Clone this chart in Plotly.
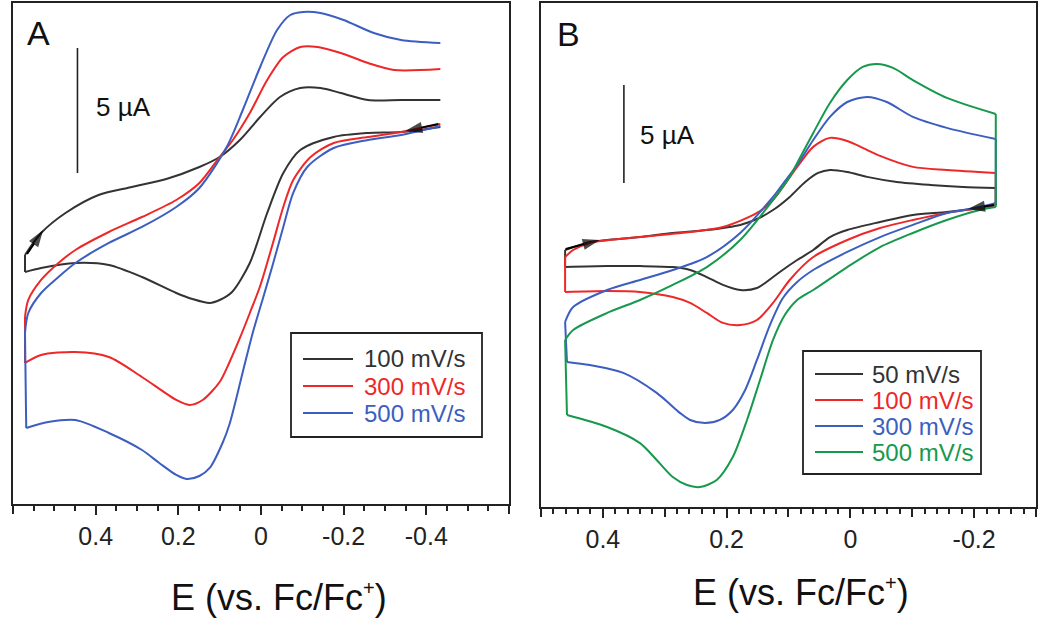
import plotly.graph_objects as go

# ---------------- Panel A data (E in V vs Fc/Fc+, I in µA, arbitrary offset) ----------------
a100_fwd_E = [0.571, 0.532, 0.473, 0.393, 0.312, 0.229, 0.149, 0.100, 0.051, 0.002, -0.046, -0.095, -0.144, -0.193, -0.259, -0.339, -0.434]
a100_fwd_I = [-0.04, 0.84, 1.64, 2.36, 2.68, 3.00, 3.48, 3.88, 4.56, 5.48, 6.28, 6.64, 6.64, 6.44, 6.16, 6.16, 6.16]
a100_rev_E = [-0.434, -0.339, -0.259, -0.176, -0.095, -0.054, -0.015, 0.027, 0.070, 0.100, 0.124, 0.166, 0.205, 0.288, 0.368, 0.449, 0.532, 0.571]
a100_rev_I = [5.08, 4.88, 4.84, 4.68, 4.16, 3.24, 1.64, -0.36, -1.52, -1.84, -1.96, -1.80, -1.56, -0.92, -0.44, -0.36, -0.56, -0.72]

a300_fwd_E = [0.571, 0.563, 0.532, 0.490, 0.449, 0.368, 0.288, 0.205, 0.149, 0.100, 0.068, 0.027, -0.015, -0.054, -0.095, -0.137, -0.193, -0.259, -0.322, -0.434]
a300_fwd_I = [-2.52, -1.84, -1.04, -0.36, 0.16, 0.88, 1.48, 2.16, 2.84, 3.88, 4.56, 5.64, 6.96, 7.88, 8.28, 8.28, 8.04, 7.64, 7.36, 7.40]
a300_rev_E = [-0.434, -0.339, -0.259, -0.176, -0.120, -0.078, -0.054, -0.029, 0.002, 0.027, 0.051, 0.076, 0.100, 0.141, 0.173, 0.205, 0.288, 0.368, 0.449, 0.532, 0.571]
a300_rev_I = [5.20, 4.88, 4.68, 4.44, 3.88, 2.96, 1.88, 0.44, -1.28, -2.36, -3.36, -4.32, -5.12, -5.84, -6.04, -5.84, -4.92, -4.12, -3.92, -4.04, -4.36]

a500_fwd_E = [0.571, 0.563, 0.532, 0.490, 0.449, 0.368, 0.288, 0.205, 0.149, 0.083, 0.044, 0.002, -0.039, -0.071, -0.102, -0.144, -0.200, -0.273, -0.339, -0.434]
a500_fwd_I = [-3.16, -2.36, -1.56, -0.92, -0.36, 0.44, 1.08, 1.88, 2.64, 4.28, 5.76, 7.48, 8.96, 9.56, 9.68, 9.64, 9.36, 8.84, 8.56, 8.44]
a500_rev_E = [-0.434, -0.339, -0.259, -0.176, -0.112, -0.078, -0.054, -0.029, -0.005, 0.020, 0.044, 0.076, 0.093, 0.124, 0.149, 0.180, 0.205, 0.246, 0.288, 0.368, 0.449, 0.515, 0.568]
a500_rev_I = [5.12, 4.76, 4.56, 4.24, 3.48, 2.44, 1.08, -0.40, -1.76, -3.16, -4.72, -6.80, -7.56, -8.56, -8.88, -9.00, -8.84, -8.36, -7.84, -7.16, -6.64, -6.72, -6.96]

# ---------------- Panel B data ----------------
b50_fwd_E = [0.461, 0.421, 0.393, 0.340, 0.287, 0.232, 0.178, 0.151, 0.125, 0.098, 0.073, 0.052, 0.033, 0.005, -0.027, -0.075, -0.129, -0.182, -0.235]
b50_fwd_I = [2.55, 2.96, 3.06, 3.21, 3.42, 3.57, 3.83, 4.13, 4.59, 5.26, 6.02, 6.48, 6.63, 6.53, 6.28, 6.02, 5.87, 5.77, 5.71]
b50_rev_E = [-0.235, -0.209, -0.156, -0.101, -0.048, 0.005, 0.033, 0.060, 0.086, 0.114, 0.125, 0.151, 0.178, 0.206, 0.232, 0.259, 0.287, 0.340, 0.393, 0.461]
b50_rev_I = [4.85, 4.69, 4.49, 4.34, 3.98, 3.57, 3.21, 2.55, 2.04, 1.43, 1.17, 0.61, 0.51, 0.77, 1.17, 1.53, 1.68, 1.73, 1.73, 1.68]

b100_fwd_E = [0.461, 0.448, 0.421, 0.340, 0.259, 0.206, 0.151, 0.125, 0.086, 0.060, 0.033, 0.005, -0.020, -0.048, -0.101, -0.156, -0.235]
b100_fwd_I = [2.19, 2.55, 2.91, 3.21, 3.47, 3.72, 4.44, 5.10, 6.79, 7.81, 8.27, 8.11, 7.76, 7.35, 6.79, 6.63, 6.48]
b100_rev_E = [-0.235, -0.209, -0.156, -0.101, -0.048, 0.005, 0.060, 0.098, 0.125, 0.151, 0.178, 0.206, 0.232, 0.259, 0.287, 0.340, 0.393, 0.461]
b100_rev_I = [4.85, 4.69, 4.44, 4.08, 3.67, 3.06, 2.19, 1.02, -0.15, -1.02, -1.28, -1.17, -0.66, -0.15, 0.15, 0.41, 0.46, 0.41]

b300_fwd_E = [0.461, 0.448, 0.393, 0.340, 0.287, 0.232, 0.178, 0.125, 0.114, 0.086, 0.060, 0.033, 0.005, -0.027, -0.059, -0.101, -0.156, -0.235]
b300_fwd_I = [-1.12, -0.36, 0.51, 1.02, 1.53, 2.19, 3.42, 5.26, 5.71, 6.89, 8.16, 9.34, 10.10, 10.36, 10.10, 9.34, 8.78, 8.21]
b300_rev_E = [-0.235, -0.209, -0.156, -0.101, -0.048, 0.005, 0.060, 0.086, 0.109, 0.130, 0.151, 0.170, 0.190, 0.211, 0.235, 0.259, 0.275, 0.313, 0.367, 0.421, 0.458]
b300_rev_I = [4.95, 4.74, 4.44, 3.83, 3.21, 2.45, 1.53, 0.92, 0.10, -1.28, -3.06, -4.59, -5.61, -6.12, -6.28, -6.12, -5.77, -4.74, -3.72, -3.32, -3.16]

b500_fwd_E = [0.461, 0.448, 0.393, 0.340, 0.287, 0.232, 0.178, 0.125, 0.098, 0.086, 0.060, 0.033, 0.005, -0.020, -0.043, -0.069, -0.101, -0.156, -0.235]
b500_fwd_I = [-2.04, -1.53, -0.66, 0.00, 0.77, 1.68, 3.06, 5.10, 6.28, 6.99, 8.52, 10.05, 11.22, 11.89, 12.04, 11.84, 11.22, 10.31, 9.49]
b500_rev_E = [-0.235, -0.209, -0.156, -0.101, -0.048, 0.005, 0.060, 0.086, 0.106, 0.125, 0.146, 0.167, 0.190, 0.216, 0.243, 0.264, 0.287, 0.313, 0.340, 0.393, 0.458]
b500_rev_I = [4.74, 4.59, 4.08, 3.42, 2.70, 1.68, 0.51, 0.00, -0.77, -2.04, -4.08, -6.12, -8.01, -9.18, -9.54, -9.44, -9.03, -8.16, -7.30, -6.48, -5.87]

# scan-direction arrows: (tail E, head E), (tail I, head I)
arrowsA_E = [[0.566, 0.527], [-0.429, -0.349]]
arrowsA_I = [[0.00, 0.96], [5.20, 4.92]]
arrowsB_E = [[0.460, 0.405], [-0.232, -0.190]]
arrowsB_I = [[2.60, 3.06], [4.85, 4.64]]

labels_A = ["100 mV/s", "300 mV/s", "500 mV/s"]
labels_B = ["50 mV/s", "100 mV/s", "300 mV/s", "500 mV/s"]
ticks_A_lab = [0.4, 0.2, 0, -0.2, -0.4]
ticktext_A = ["0.4", "0.2", "0", "-0.2", "-0.4"]
ticks_A_edge = [0.6, -0.6]
ticks_B_lab = [0.4, 0.2, 0, -0.2]
ticktext_B = ["0.4", "0.2", "0", "-0.2"]
ticks_B_unlab = [0.5, 0.3, 0.1, -0.1, -0.3]
x_title = 'E (vs. Fc/Fc<sup><span style="font-size:20px">+</span></sup>)'

BLACK = "#333333"
RED = "#ee2828"
BLUE = "#3c5ec0"
GREEN = "#17994d"
AX = "#222222"
FONT = "Liberation Sans, Arial, Helvetica, sans-serif"


# paper-coordinate helpers (margins l=13, r=14, t=3, b=126 -> plot area 1023 x 504)
def px_x(p):
    return (p - 13) / 1023.0


def px_y(p):
    return (507 - p) / 504.0


fig = go.Figure()


def add_cv(fE, fI, rE, rI, color, xa, ya, connect_right):
    fig.add_trace(go.Scatter(x=fE + [None] + rE, y=fI + [None] + rI, mode="lines",
                             line=dict(color=color, width=2, shape="spline", smoothing=0.8),
                             xaxis=xa, yaxis=ya, showlegend=False, hoverinfo="x+y"))
    cx = [rE[-1], fE[0]]
    cy = [rI[-1], fI[0]]
    if connect_right:
        cx += [None, fE[-1], rE[0]]
        cy += [None, fI[-1], rI[0]]
    fig.add_trace(go.Scatter(x=cx, y=cy, mode="lines", line=dict(color=color, width=2),
                             xaxis=xa, yaxis=ya, showlegend=False, hoverinfo="skip"))


setsA = [(a100_fwd_E, a100_fwd_I, a100_rev_E, a100_rev_I, BLACK),
         (a300_fwd_E, a300_fwd_I, a300_rev_E, a300_rev_I, RED),
         (a500_fwd_E, a500_fwd_I, a500_rev_E, a500_rev_I, BLUE)]
for fE, fI, rE, rI, c in setsA:
    add_cv(fE, fI, rE, rI, c, "x", "y", False)

setsB = [(b50_fwd_E, b50_fwd_I, b50_rev_E, b50_rev_I, BLACK),
         (b100_fwd_E, b100_fwd_I, b100_rev_E, b100_rev_I, RED),
         (b300_fwd_E, b300_fwd_I, b300_rev_E, b300_rev_I, BLUE),
         (b500_fwd_E, b500_fwd_I, b500_rev_E, b500_rev_I, GREEN)]
for fE, fI, rE, rI, c in setsB:
    add_cv(fE, fI, rE, rI, c, "x2", "y2", True)


def add_arrows(Es, Is, xa, ya):
    x, y, sizes = [], [], []
    for e, i in zip(Es, Is):
        x += e + [None]
        y += i + [None]
        sizes += [0, 18, 0]
    fig.add_trace(go.Scatter(x=x, y=y, mode="lines+markers",
                             line=dict(color="black", width=2),
                             marker=dict(symbol="arrow", size=sizes, angleref="previous",
                                         color="black", line=dict(width=0)),
                             xaxis=xa, yaxis=ya, showlegend=False, hoverinfo="skip"))


add_arrows(arrowsA_E, arrowsA_I, "x", "y")
add_arrows(arrowsB_E, arrowsB_I, "x2", "y2")

# empty traces so the overlay tick axes exist
fig.add_trace(go.Scatter(x=[None], y=[None], xaxis="x3", yaxis="y", showlegend=False, hoverinfo="skip"))
fig.add_trace(go.Scatter(x=[None], y=[None], xaxis="x4", yaxis="y2", showlegend=False, hoverinfo="skip"))

frame = dict(showline=True, linecolor=AX, linewidth=1.6, mirror=True,
             showgrid=False, zeroline=False, automargin=False)
tickfont = dict(size=25, family=FONT, color=AX)

fig.update_layout(
    width=1050, height=633,
    margin=dict(l=13, r=14, t=3, b=126, autoexpand=False),
    paper_bgcolor="white", plot_bgcolor="white",
    font=dict(family=FONT, color=AX),
    showlegend=False,
    xaxis=dict(domain=[0, 0.4848], range=[0.6, -0.6], anchor="y",
               tickmode="array", tickvals=ticks_A_lab, ticktext=ticktext_A,
               ticks="outside", ticklen=9, tickwidth=1.5, tickcolor=AX, tickfont=tickfont,
               minor=dict(tickmode="linear", tick0=0, dtick=0.05, ticks="outside",
                          ticklen=5, tickwidth=1.5, tickcolor=AX, showgrid=False),
               **frame),
    xaxis3=dict(domain=[0, 0.4848], range=[0.6, -0.6], anchor="y", overlaying="x", side="bottom",
                tickmode="array", tickvals=ticks_A_edge, showticklabels=False,
                ticks="outside", ticklen=9, tickwidth=1.5, tickcolor=AX,
                showline=False, showgrid=False, zeroline=False, automargin=False),
    yaxis=dict(domain=[0.006, 1], range=[-10.0, 10.04], anchor="x",
               showticklabels=False, ticks="", **frame),
    xaxis2=dict(domain=[0.5161, 1], range=[0.5, -0.3], anchor="y2",
                tickmode="array", tickvals=ticks_B_lab, ticktext=ticktext_B,
                ticks="outside", ticklen=9, tickwidth=1.5, tickcolor=AX, tickfont=tickfont,
                minor=dict(tickmode="linear", tick0=0, dtick=0.02, ticks="outside",
                           ticklen=5, tickwidth=1.5, tickcolor=AX, showgrid=False),
                **frame),
    xaxis4=dict(domain=[0.5161, 1], range=[0.5, -0.3], anchor="y2", overlaying="x2", side="bottom",
                tickmode="array", tickvals=ticks_B_unlab, showticklabels=False,
                ticks="outside", ticklen=9, tickwidth=1.5, tickcolor=AX,
                showline=False, showgrid=False, zeroline=False, automargin=False),
    yaxis2=dict(domain=[0, 1], range=[-10.56, 15.15], anchor="x2",
                showticklabels=False, ticks="", **frame),
)

# x-axis titles (slightly right of the axis centre, as in the original figure)
for cx, cy in [(279, 597), (801, 592)]:
    fig.add_annotation(x=px_x(cx), y=px_y(cy), xref="paper", yref="paper", text=x_title,
                       showarrow=False, xanchor="center", yanchor="middle",
                       font=dict(size=36, family=FONT, color="#111111"))

# scale bars (5 µA)
fig.add_shape(type="line", xref="x", yref="y", x0=0.444, x1=0.444, y0=3.24, y1=8.24,
              line=dict(color=AX, width=1.6))
fig.add_shape(type="line", xref="x2", yref="y2", x0=0.366, x1=0.366, y0=5.97, y1=10.97,
              line=dict(color=AX, width=1.6))
fig.add_annotation(x=0.403, y=5.88, xref="x", yref="y", text="5 µA", showarrow=False,
                   xanchor="left", yanchor="middle", font=dict(size=26, family=FONT, color="#111111"))
fig.add_annotation(x=0.343, y=8.42, xref="x2", yref="y2", text="5 µA", showarrow=False,
                   xanchor="left", yanchor="middle", font=dict(size=26, family=FONT, color="#111111"))

# panel letters
fig.add_annotation(x=0.024, y=0.941, xref="x domain", yref="y domain", text="A", showarrow=False,
                   xanchor="left", yanchor="middle", font=dict(size=34, family=FONT, color="#111111"))
fig.add_annotation(x=0.028, y=0.938, xref="x2 domain", yref="y2 domain", text="B", showarrow=False,
                   xanchor="left", yanchor="middle", font=dict(size=34, family=FONT, color="#111111"))

# legends (boxed, line sample + coloured label)
legend_boxes = [
    (291, 333, 482, 437, 303, 353, 362, [359, 386, 413], labels_A, [BLACK, RED, BLUE]),
    (803, 351, 981, 474, 815, 863, 870, [374, 400, 426, 452], labels_B, [BLACK, RED, BLUE, GREEN]),
]
for bx0, by0, bx1, by1, lx0, lx1, tx, rows, labs, cols in legend_boxes:
    fig.add_shape(type="rect", xref="paper", yref="paper",
                  x0=px_x(bx0), x1=px_x(bx1), y0=px_y(by1), y1=px_y(by0),
                  line=dict(color=AX, width=1.8), fillcolor="white", layer="above")
    for ry, lab, c in zip(rows, labs, cols):
        fig.add_shape(type="line", xref="paper", yref="paper",
                      x0=px_x(lx0), x1=px_x(lx1), y0=px_y(ry), y1=px_y(ry),
                      line=dict(color=c, width=1.8), layer="above")
        fig.add_annotation(x=px_x(tx), y=px_y(ry), xref="paper", yref="paper", text=lab,
                           showarrow=False, xanchor="left", yanchor="middle",
                           font=dict(size=24, family=FONT, color=c))

fig.write_html("out.html", config={"displayModeBar": False},
               post_script="document.body.style.margin='0px';document.body.style.padding='0px';")
